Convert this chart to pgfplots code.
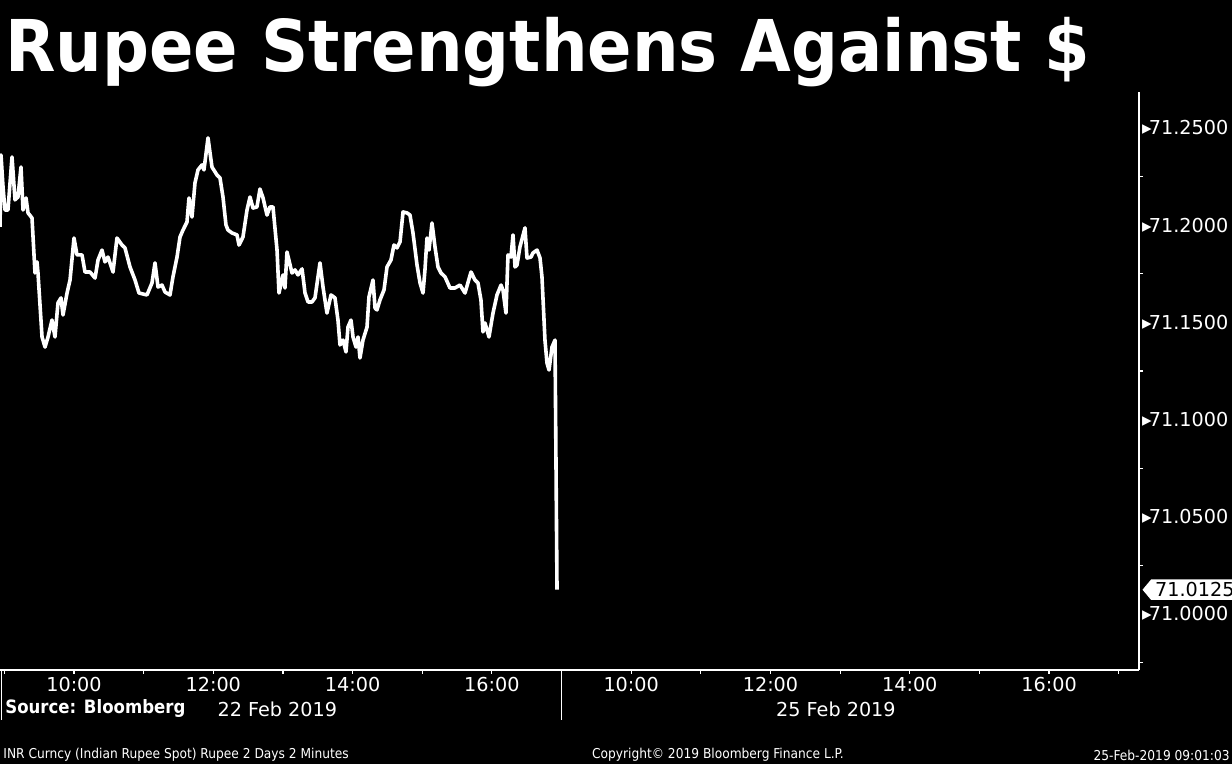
\documentclass[border=0pt]{standalone}
\usepackage{fontspec}
\setmainfont{DejaVu Sans}
\newfontfamily\cond{DejaVu Sans Condensed}
\usepackage{pgfplots}
\usepackage{pgfplotstable}
\pgfplotsset{compat=1.18}
\usetikzlibrary{shapes.symbols}

% INR spot, 22 Feb 2019; x = hour of day (25 Feb is hour+8 on the same axis)
\pgfplotstableread{
h v
8.938 71.1991
8.952 71.2361
8.981 71.2196
9.009 71.2078
9.052 71.2078
9.110 71.2351
9.153 71.2130
9.196 71.2145
9.239 71.2299
9.268 71.2078
9.311 71.2140
9.340 71.2063
9.397 71.2037
9.440 71.1754
9.469 71.1811
9.483 71.1754
9.541 71.1425
9.584 71.1373
9.627 71.1425
9.684 71.1512
9.727 71.1425
9.770 71.1600
9.813 71.1626
9.842 71.1538
9.900 71.1651
9.943 71.1718
10.000 71.1934
10.043 71.1847
10.115 71.1847
10.158 71.1759
10.230 71.1759
10.302 71.1728
10.345 71.1821
10.402 71.1872
10.445 71.1811
10.488 71.1836
10.560 71.1759
10.617 71.1934
10.689 71.1898
10.732 71.1883
10.804 71.1785
10.876 71.1718
10.933 71.1651
11.048 71.1641
11.120 71.1703
11.163 71.1806
11.206 71.1682
11.263 71.1692
11.307 71.1656
11.378 71.1641
11.421 71.1734
11.479 71.1836
11.522 71.1939
11.565 71.1975
11.622 71.2016
11.651 71.2140
11.694 71.2042
11.737 71.2217
11.780 71.2284
11.838 71.2310
11.866 71.2284
11.924 71.2449
11.981 71.2299
12.053 71.2258
12.096 71.2243
12.139 71.2145
12.182 71.2001
12.211 71.1975
12.268 71.1960
12.340 71.1950
12.369 71.1898
12.426 71.1939
12.484 71.2078
12.527 71.2145
12.570 71.2088
12.627 71.2094
12.670 71.2186
12.714 71.2140
12.771 71.2052
12.814 71.2094
12.857 71.2094
12.915 71.1872
12.943 71.1651
13.001 71.1744
13.029 71.1677
13.058 71.1862
13.130 71.1754
13.173 71.1770
13.216 71.1744
13.274 71.1775
13.317 71.1651
13.360 71.1605
13.417 71.1605
13.460 71.1626
13.532 71.1806
13.575 71.1682
13.632 71.1548
13.690 71.1641
13.747 71.1626
13.790 71.1512
13.819 71.1384
13.862 71.1409
13.905 71.1348
13.934 71.1476
13.977 71.1512
14.006 71.1425
14.049 71.1373
14.078 71.1425
14.106 71.1317
14.149 71.1409
14.207 71.1476
14.235 71.1631
14.293 71.1718
14.322 71.1574
14.350 71.1564
14.393 71.1615
14.451 71.1667
14.494 71.1785
14.551 71.1821
14.594 71.1898
14.637 71.1883
14.681 71.1914
14.724 71.2068
14.781 71.2063
14.824 71.2052
14.867 71.1960
14.925 71.1795
14.968 71.1703
15.011 71.1651
15.039 71.1770
15.068 71.1934
15.097 71.1872
15.140 71.2011
15.183 71.1888
15.226 71.1785
15.269 71.1754
15.327 71.1734
15.398 71.1677
15.470 71.1677
15.542 71.1692
15.614 71.1651
15.700 71.1759
15.757 71.1718
15.800 71.1703
15.843 71.1615
15.872 71.1451
15.901 71.1497
15.958 71.1425
16.016 71.1548
16.073 71.1641
16.131 71.1692
16.159 71.1667
16.202 71.1548
16.231 71.1847
16.274 71.1836
16.303 71.1950
16.332 71.1785
16.360 71.1795
16.403 71.1888
16.475 71.1986
16.504 71.1831
16.561 71.1836
16.590 71.1857
16.648 71.1872
16.691 71.1831
16.719 71.1734
16.762 71.1409
16.791 71.1291
16.820 71.1255
16.863 71.1373
16.906 71.1409
16.935 71.0125
}\inrday

\begin{document}
\begin{tikzpicture}
\useasboundingbox (0,-47pt) rectangle (616pt,335pt);
\fill[black] (-2pt,-49pt) rectangle (618pt,337pt);
\node[anchor=base west, text=white, inner sep=0pt,
      font=\cond\bfseries\fontsize{35.7}{40}\selectfont] at (2.5pt,299pt) {\scalebox{1.02}[1]{Rupee Strengthens Against \$}};
\begin{axis}[
    at={(0,0)}, anchor=south west,
    scale only axis, width=569.5pt, height=289pt,
    xmin=8.9375, xmax=25.291, ymin=70.9712, ymax=71.2685,
    clip=false,
    axis x line*=bottom, axis y line*=right,
    axis line style={white, line width=0.6pt, -},
    xtick={10,12,14,16,18,20,22,24},
    xticklabels={10:00,12:00,14:00,16:00,10:00,12:00,14:00,16:00},
    minor xtick={9,11,13,15,17,19,21,23,25},
    ytick={71.00,71.05,71.10,71.15,71.20,71.25},
    yticklabels={▸\kern-1.5pt 71.0000,▸\kern-1.5pt 71.0500,▸\kern-1.5pt 71.1000,▸\kern-1.5pt 71.1500,▸\kern-1.5pt 71.2000,▸\kern-1.5pt 71.2500},
    minor ytick={70.975,71.025,71.075,71.125,71.175,71.225},
    tick align=outside,
    major tick length=2pt, minor tick length=2pt,
    tick style={white, line width=0.6pt},
    major y tick style={draw=none},
    yticklabel pos=right,
    xticklabel style={anchor=center, yshift=-5.5pt, text=white, font=\fontsize{9.6}{11}\selectfont},
    yticklabel style={anchor=west, inner sep=0pt, xshift=-0.6pt, text=white, font=\fontsize{9.6}{11}\selectfont},
]
\addplot[white, line width=1.8pt, line join=round] table[x=h, y=v] {\inrday};
\draw[white, line width=0.6pt] (axis description cs:0.493,0) -- (axis description cs:0.493,-0.0865);
\draw[white, line width=0.6pt] (axis description cs:0.001,0) -- (axis description cs:0.001,-0.0865);
\node[text=white, font=\fontsize{9.6}{11}\selectfont, yshift=-19.5pt] at (axis description cs:0.2435,0) {22 Feb 2019};
\node[text=white, font=\fontsize{9.6}{11}\selectfont, yshift=-19.5pt] at (axis description cs:0.7339,0) {25 Feb 2019};
\node[signal, signal to=west, signal pointer angle=100, fill=white, text=black, anchor=west,
      inner xsep=2pt, inner ysep=1.5pt, xshift=1.5pt, font=\fontsize{9.6}{11}\selectfont]
      at (axis description cs:1,0.1389) {71.0125};
\end{axis}
\node[anchor=west, text=white, inner sep=0pt, font=\cond\bfseries\fontsize{9.2}{11}\selectfont] at (2.5pt,-19.5pt) {Source: Bloomberg};
\node[anchor=west, text=white, inner sep=0pt, font=\cond\fontsize{6.8}{8}\selectfont] at (1.5pt,-42.5pt) {INR Curncy (Indian Rupee Spot) Rupee 2 Days 2 Minutes};
\node[text=white, inner sep=0pt, font=\cond\fontsize{6.8}{8}\selectfont] at (359pt,-42.5pt) {Copyright© 2019 Bloomberg Finance L.P.};
\node[anchor=east, text=white, inner sep=0pt, font=\cond\fontsize{6.8}{8}\selectfont] at (615pt,-42.5pt) {25-Feb-2019 09:01:03};
\end{tikzpicture}
\end{document}
